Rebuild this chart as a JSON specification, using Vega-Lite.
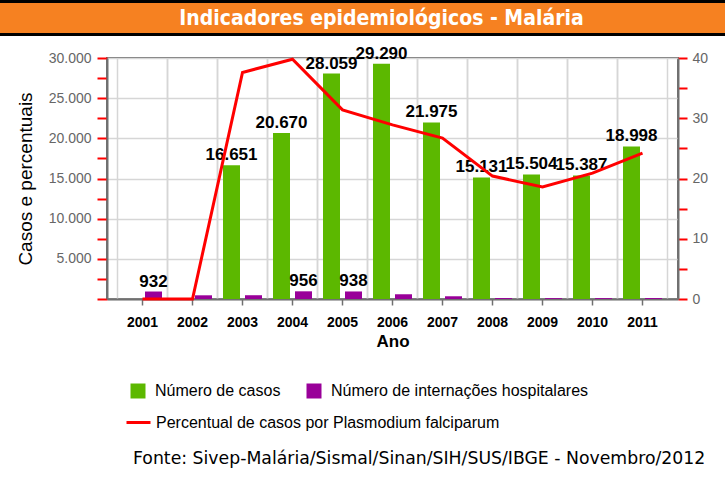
{
  "$schema": "https://vega.github.io/schema/vega-lite/v6.json",
  "padding": 0,
  "spacing": 7,
  "config": {
    "locale": {"number": {"decimal": ",", "thousands": ".", "grouping": [3], "currency": ["R$", ""]}},
    "font": "Liberation Sans",
    "view": {"stroke": null}
  },
  "vconcat": [
    {
      "spacing": 0,
      "bounds": "flush",
      "vconcat": [
        {"width": 725, "height": 3, "view": {"fill": "#000000", "stroke": null}, "data": {"values": []}, "mark": "text", "encoding": {}},
        {
          "width": 725, "height": 30,
          "view": {"fill": "#f68121", "stroke": null},
          "data": {"values": [{"t": "Indicadores epidemiológicos - Malária"}]},
          "mark": {"type": "text", "font": "DejaVu Sans Condensed", "fontWeight": "bold", "fontSize": 21, "color": "#ffffff", "dx": 19, "dy": 1, "baseline": "middle"},
          "encoding": {"text": {"field": "t"}}
        },
        {"width": 725, "height": 3, "view": {"fill": "#000000", "stroke": null}, "data": {"values": []}, "mark": "text", "encoding": {}}
      ]
    },
    {
      "spacing": 0,
      "bounds": "flush",
      "hconcat": [
        {"width": 107, "height": 241, "view": {"stroke": null}, "data": {"values": []}, "mark": "text", "encoding": {}},
        {
          "width": 571,
          "height": 241,
          "view": {"stroke": "#707070", "strokeWidth": 2},
          "title": {"text": "Fonte: Sivep-Malária/Sismal/Sinan/SIH/SUS/IBGE - Novembro/2012", "orient": "bottom", "anchor": "start", "frame": "group", "dx": 26, "offset": 101, "font": "DejaVu Sans", "fontSize": 17.3, "fontWeight": "normal", "color": "#000000"},
          "data": {"values": [
            {"ano": 2001, "casos": null, "internacoes": 932, "pct": 0},
            {"ano": 2002, "casos": null, "internacoes": 460, "pct": 0},
            {"ano": 2003, "casos": 16651, "internacoes": 470, "pct": 37.6},
            {"ano": 2004, "casos": 20670, "internacoes": 956, "pct": 39.8},
            {"ano": 2005, "casos": 28059, "internacoes": 938, "pct": 31.4},
            {"ano": 2006, "casos": 29290, "internacoes": 590, "pct": 28.9},
            {"ano": 2007, "casos": 21975, "internacoes": 340, "pct": 26.7},
            {"ano": 2008, "casos": 15131, "internacoes": 120, "pct": 20.4},
            {"ano": 2009, "casos": 15504, "internacoes": 110, "pct": 18.6},
            {"ano": 2010, "casos": 15387, "internacoes": 110, "pct": 20.9},
            {"ano": 2011, "casos": 18998, "internacoes": 120, "pct": 24.2}
          ]},
          "resolve": {"scale": {"y": "independent"}, "axis": {"x": "independent"}},
          "layer": [
            {
              "transform": [{"fold": ["casos", "internacoes"], "as": ["serie", "valor"]}],
              "mark": {"type": "bar"},
              "encoding": {
                "x": {"field": "ano", "type": "ordinal", "scale": {"paddingInner": 0, "paddingOuter": 0.21},
                      "axis": {"orient": "bottom", "bandPosition": 0, "grid": true, "gridColor": "#d6d6d6", "gridWidth": 1.5, "labels": false, "ticks": false, "domain": false, "title": null}},
                "xOffset": {"field": "serie", "scale": {"domain": ["casos", "internacoes"], "paddingInner": 0.227, "paddingOuter": 0.25}},
                "y": {"field": "valor", "type": "quantitative", "scale": {"domain": [0, 30000]},
                      "axis": {"orient": "left", "values": [0, 2500, 5000, 7500, 10000, 12500, 15000, 17500, 20000, 22500, 25000, 27500, 30000],
                               "format": ",d", "labelExpr": "datum.value % 5000 == 0 && datum.value > 0 ? datum.label : ''",
                               "tickColor": "#ff0000", "tickSize": 10, "tickWidth": 2,
                               "domainColor": "#707070", "domainWidth": 2,
                               "grid": true, "gridColor": "#d6d6d6", "gridWidth": 1.5,
                               "gridOpacity": {"condition": {"test": "datum.value % 5000 == 0", "value": 1}, "value": 0},
                               "labelFont": "Liberation Sans", "labelFontSize": 14, "labelColor": "#666666", "labelPadding": 6,
                               "labelOverlap": false, "labelFlush": false,
                               "title": "Casos e percentuais", "titleFont": "Liberation Sans", "titleFontSize": 19, "titleFontWeight": "normal", "titleColor": "#000000", "titlePadding": 13}},
                "color": {"field": "serie", "type": "nominal",
                          "scale": {"domain": ["casos", "internacoes"], "range": ["#5cb800", "#990099"]},
                          "legend": {"title": null, "orient": "none", "legendX": 130, "legendY": 383, "direction": "horizontal",
                                     "symbolType": "square", "symbolSize": 225, "symbolStrokeWidth": 0,
                                     "labelFont": "Liberation Sans", "labelFontSize": 16, "labelColor": "#000000", "labelOffset": 9,
                                     "columnPadding": 25, "padding": 0, "labelLimit": 400,
                                     "labelExpr": "datum.label == 'casos' ? 'Número de casos' : 'Número de internações hospitalares'"}}
              }
            },
            {
              "transform": [
                {"fold": ["casos", "internacoes"], "as": ["serie", "valor"]},
                {"filter": "datum.valor != null && (datum.serie == 'casos' || datum.valor > 900)"}
              ],
              "mark": {"type": "text", "font": "Liberation Sans", "fontWeight": "bold", "fontSize": 17, "color": "#000000", "baseline": "alphabetic", "dy": -5},
              "encoding": {
                "x": {"field": "ano", "type": "ordinal", "scale": {"paddingInner": 0, "paddingOuter": 0.21},
                      "axis": {"orient": "bottom", "bandPosition": 1, "grid": true, "gridColor": "#d6d6d6", "gridWidth": 1.5, "labels": false, "ticks": false, "domain": false, "title": null}},
                "xOffset": {"field": "serie", "scale": {"domain": ["casos", "internacoes"], "paddingInner": 0.227, "paddingOuter": 0.25}},
                "y": {"field": "valor", "type": "quantitative", "scale": {"domain": [0, 30000]}, "axis": null},
                "text": {"field": "valor", "type": "quantitative", "format": ",d"}
              }
            },
            {
              "mark": {"type": "line", "color": "#ff0000", "strokeWidth": 3},
              "encoding": {
                "x": {"field": "ano", "type": "ordinal", "scale": {"paddingInner": 0, "paddingOuter": 0.21},
                      "axis": {"orient": "bottom", "grid": false, "labelAngle": 0, "tickColor": "#707070", "tickSize": 6, "tickWidth": 1.5,
                               "domain": true, "domainColor": "#707070", "domainWidth": 2,
                               "labelFont": "Liberation Sans", "labelFontSize": 14, "labelFontWeight": "bold", "labelColor": "#000000", "labelPadding": 10,
                               "title": "Ano", "titleFont": "Liberation Sans", "titleFontSize": 17, "titleFontWeight": "bold", "titleColor": "#000000", "titlePadding": 4}},
                "y": {"field": "pct", "type": "quantitative", "scale": {"domain": [0, 40]},
                      "axis": {"orient": "right", "values": [0, 5, 10, 15, 20, 25, 30, 35, 40],
                               "labelExpr": "datum.value % 10 == 0 ? datum.label : ''",
                               "tickColor": "#ff0000", "tickSize": 9, "tickWidth": 2,
                               "domainColor": "#707070", "domainWidth": 2, "grid": false,
                               "labelFont": "Liberation Sans", "labelFontSize": 14, "labelColor": "#666666", "labelPadding": 5,
                               "labelOverlap": false, "labelFlush": false, "title": null}},
                "stroke": {"datum": "Percentual de casos por Plasmodium falciparum", "type": "nominal",
                           "scale": {"range": ["#ff0000"]},
                           "legend": {"title": null, "orient": "none", "legendX": 125, "legendY": 409,
                                      "symbolType": "stroke", "symbolSize": 576, "symbolStrokeWidth": 3,
                                      "labelFont": "Liberation Sans", "labelFontSize": 16, "labelColor": "#000000", "labelOffset": 4,
                                      "padding": 0, "labelLimit": 500}}
              }
            }
          ]
        }
      ]
    }
  ]
}
